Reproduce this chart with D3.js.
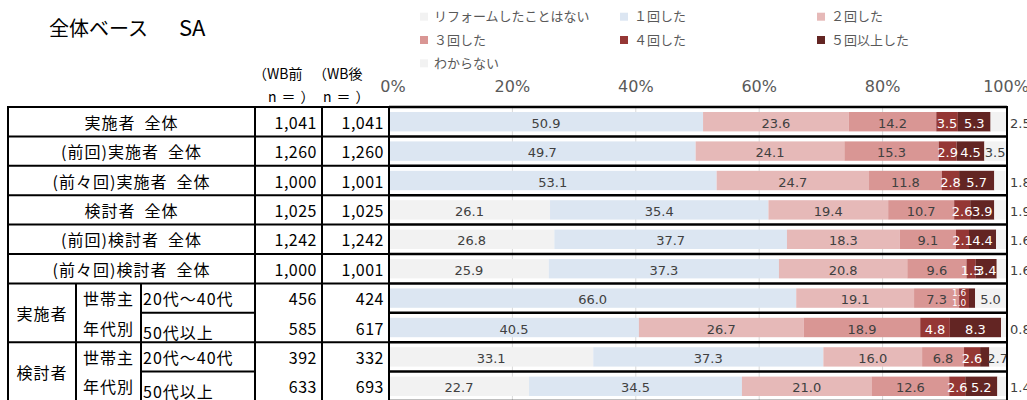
<!DOCTYPE html>
<meta charset="utf-8">
<style>
    body { margin: 0; background: #fff; }
    svg text { font-family: "DejaVu Sans", "Noto Sans CJK JP", sans-serif; }
    svg text.jp { font-family: "Noto Sans CJK JP", sans-serif; }
</style>
<body>
<script src="https://cdn.jsdelivr.net/npm/d3@7"></script>
<script>

// series (legend order)
var seriesNames = ["リフォームしたことはない", "１回した", "２回した", "３回した", "４回した", "５回以上した", "わからない"];
var seriesKeys = ["never", "once", "twice", "three", "four", "five", "unknown"];
var seriesColors = ["#F2F2F2", "#DCE6F2", "#E6B9B8", "#D99694", "#953735", "#632523", "#F2F2F2"];

// rows
var rowLabels = ["実施者\u2002全体", "(前回)実施者\u2002全体", "(前々回)実施者\u2002全体", "検討者\u2002全体", "(前回)検討者\u2002全体",
                 "(前々回)検討者\u2002全体", "20代～40代", "50代以上", "20代～40代", "50代以上"];
var groupLabels = ["実施者", "検討者"];
var groupSubLabels = ["世帯主", "年代別"];
var nBefore = [1041, 1260, 1000, 1025, 1242, 1000, 456, 585, 392, 633];
var nAfter  = [1041, 1260, 1001, 1025, 1242, 1001, 424, 617, 332, 693];

// values (%)
var never   = [0, 0, 0, 26.1, 26.8, 25.9, 0, 0, 33.1, 22.7];
var once    = [50.9, 49.7, 53.1, 35.4, 37.7, 37.3, 66.0, 40.5, 37.3, 34.5];
var twice   = [23.6, 24.1, 24.7, 19.4, 18.3, 20.8, 19.1, 26.7, 16.0, 21.0];
var three   = [14.2, 15.3, 11.8, 10.7, 9.1, 9.6, 7.3, 18.9, 6.8, 12.6];
var four    = [3.5, 2.9, 2.8, 2.6, 2.1, 1.5, 1.6, 4.8, 2.6, 2.6];
var five    = [5.3, 4.5, 5.7, 3.9, 4.4, 3.4, 1.0, 8.3, 1.5, 5.2];
var unknown = [2.5, 3.5, 1.8, 1.9, 1.6, 1.6, 5.0, 0.8, 2.7, 1.4];
var hiddenLabels = ["8-five"];

var tickValues = [0, 20, 40, 60, 80, 100];

var width = 1027, height = 400;
var tableLeft = 8, labelRight = 255, n1Right = 322, n2Right = 389, plotRight = 1007;
var groupRight = 76, subRight = 141;
var tableTop = 107, rowH = 29.4, nRows = rowLabels.length;

var svg = d3.select("body").append("svg")
    .attr("width", width)
    .attr("height", height);

var x = d3.scaleLinear().domain([0, 100]).range([n2Right, 1006]);
var y = d3.scaleBand()
    .domain(d3.range(nRows))
    .range([tableTop, tableTop + nRows * rowH])
    .paddingInner(0.34)
    .paddingOuter(0.17);

function rowTop(i) { return tableTop + i * rowH; }
function rowMid(i) { return y(i) + y.bandwidth() / 2; }

// title
var title = svg.append("text")
    .attr("class", "jp")
    .attr("x", 49).attr("y", 29).attr("dy", "0.35em")
    .style("font-size", "20px").style("fill", "#000")
    .text("全体ベース");
title.append("tspan")
    .attr("x", 179)
    .style("font-size", "22px")
    .text("SA");

// legend
var legend = svg.selectAll("g.legend")
    .data(seriesNames)
  .enter().append("g")
    .attr("class", "legend")
    .attr("transform", function(d, i) {
        return "translate(" + [420, 620, 817][i % 3] + "," + (16.7 + Math.floor(i / 3) * 23.3) + ")";
    });
legend.append("rect")
    .attr("x", 0).attr("y", -4).attr("width", 8).attr("height", 8)
    .style("fill", function(d, i) { return seriesColors[i]; });
legend.append("text")
    .attr("class", "jp")
    .attr("x", 14).attr("dy", "0.35em")
    .style("font-size", "13px").style("fill", "#595959")
    .text(function(d) { return d; });

// column headers
var header = [["（WB前", 253, 74, 0], ["n＝）", 268, 97, 5], ["（WB後", 313, 74, 0], ["n＝）", 323, 97, 5]];
svg.selectAll("text.head")
    .data(header)
  .enter().append("text")
    .attr("class", "head jp")
    .attr("x", function(d) { return d[1]; })
    .attr("y", function(d) { return d[2]; })
    .attr("dy", "0.35em")
    .style("font-size", "14px").style("fill", "#000")
    .style("letter-spacing", function(d) { return d[3] + "px"; })
    .text(function(d) { return d[0]; });

// axis labels
svg.selectAll("text.tick")
    .data(tickValues)
  .enter().append("text")
    .attr("class", "tick")
    .attr("x", function(d) { return x(d) + (d == 0 ? 4 : 0); })
    .attr("y", 86).attr("dy", "0.35em")
    .attr("text-anchor", "middle")
    .style("font-size", "16px").style("fill", "#595959")
    .text(function(d) { return d + "%"; });

// gridlines
svg.selectAll("line.grid")
    .data(tickValues.slice(1, -1))
  .enter().append("line")
    .attr("x1", function(d) { return x(d); })
    .attr("x2", function(d) { return x(d); })
    .attr("y1", tableTop).attr("y2", rowTop(nRows))
    .style("stroke", "#D9D9D9").style("stroke-width", 1);

// bars
var rows = d3.range(nRows).map(function(i) {
    return { never: never[i], once: once[i], twice: twice[i], three: three[i],
             four: four[i], five: five[i], unknown: unknown[i] };
});
var stacked = d3.stack().keys(seriesKeys)(rows);

svg.selectAll("g.series")
    .data(stacked)
  .enter().append("g")
    .attr("class", "series")
    .style("fill", function(d, i) { return seriesColors[i]; })
  .selectAll("rect")
    .data(function(d) { return d; })
  .enter().append("rect")
    .attr("x", function(d) { return x(d[0]); })
    .attr("y", function(d, i) { return y(i); })
    .attr("width", function(d) { return x(d[1]) - x(d[0]); })
    .attr("height", y.bandwidth());

// value labels
var fmt = d3.format(".1f");
var labels = [];
stacked.forEach(function(s) {
    s.forEach(function(d, i) {
        var v = d[1] - d[0], key = s.key;
        if (v <= 0 || hiddenLabels.indexOf(i + "-" + key) >= 0) return;
        var lab = { text: fmt(rows[i][key]), x: (x(d[0]) + x(d[1])) / 2, y: rowMid(i) + 1.5,
                    size: 13, color: "#404040", anchor: "middle" };
        if (key == "four" || key == "five") {
            lab.color = "#fff";
            if (four[i] < 2 && five[i] < 2) {
                var start = x(stacked[4][i][0]);
                lab.size = 9;
                lab.x = start;
                lab.y = rowMid(i) + (key == "four" ? -5 : 5);
            }
        }
        if (key == "unknown" && v < 2.7) {
            lab.x = 1010; lab.anchor = "start";
        }
        labels.push(lab);
    });
});
svg.selectAll("text.value")
    .data(labels)
  .enter().append("text")
    .attr("class", "value")
    .attr("x", function(d) { return d.x; })
    .attr("y", function(d) { return d.y; })
    .attr("dy", "0.35em")
    .attr("text-anchor", function(d) { return d.anchor; })
    .style("font-size", function(d) { return d.size + "px"; })
    .style("fill", function(d) { return d.color; })
    .text(function(d) { return d.text; });

// table texts
var numFmt = d3.format(",");
var tbl = svg.append("g");
rowLabels.forEach(function(t, i) {
    var sub = i >= 6;
    tbl.append("text")
        .attr("class", "jp")
        .attr("x", sub ? 143 : (tableLeft + labelRight) / 2)
        .attr("y", rowMid(i) + (sub && i % 2 == 1 ? 6 : 1.5))
        .attr("dy", "0.35em")
        .attr("text-anchor", sub ? "start" : "middle")
        .style("font-size", "16px").style("letter-spacing", "1px")
        .text(t);
    tbl.append("text")
        .attr("class", "jp")
        .attr("x", n1Right - 5).attr("y", rowMid(i) + 1.5).attr("dy", "0.35em")
        .attr("text-anchor", "end")
        .style("font-size", "16px").style("letter-spacing", "0.5px")
        .text(numFmt(nBefore[i]));
    tbl.append("text")
        .attr("class", "jp")
        .attr("x", n2Right - 5).attr("y", rowMid(i) + 1.5).attr("dy", "0.35em")
        .attr("text-anchor", "end")
        .style("font-size", "16px").style("letter-spacing", "0.5px")
        .text(numFmt(nAfter[i]));
});
groupLabels.forEach(function(g, k) {
    var r = 6 + k * 2;
    tbl.append("text")
        .attr("class", "jp")
        .attr("x", (tableLeft + groupRight) / 2)
        .attr("y", rowTop(r + 1) + 1.5).attr("dy", "0.35em")
        .attr("text-anchor", "middle")
        .style("font-size", "16px").style("letter-spacing", "1px")
        .text(g);
    groupSubLabels.forEach(function(s, j) {
        tbl.append("text")
            .attr("class", "jp")
            .attr("x", (groupRight + subRight) / 2)
            .attr("y", rowMid(r + j) + 1.5).attr("dy", "0.35em")
            .attr("text-anchor", "middle")
            .style("font-size", "16px").style("letter-spacing", "1px")
            .text(s);
    });
});

// table lines
var lines = svg.append("g").style("stroke", "#000");
d3.range(nRows + 1).forEach(function(i) {
    var inner = i == 7 || i == 9;
    lines.append("line")
        .attr("x1", inner ? subRight : tableLeft).attr("x2", inner ? labelRight : n2Right)
        .attr("y1", rowTop(i)).attr("y2", rowTop(i))
        .style("stroke-width", 2);
    lines.append("line")
        .attr("x1", n2Right).attr("x2", plotRight)
        .attr("y1", rowTop(i)).attr("y2", rowTop(i))
        .style("stroke-width", 2.5);
});
[tableLeft, labelRight, n1Right, n2Right, plotRight].forEach(function(v) {
    lines.append("line")
        .attr("x1", v).attr("x2", v)
        .attr("y1", tableTop - 1).attr("y2", rowTop(nRows))
        .style("stroke-width", 2);
});
[groupRight, subRight].forEach(function(v) {
    lines.append("line")
        .attr("x1", v).attr("x2", v)
        .attr("y1", rowTop(6)).attr("y2", rowTop(nRows))
        .style("stroke-width", 2);
});

</script>
</body>
